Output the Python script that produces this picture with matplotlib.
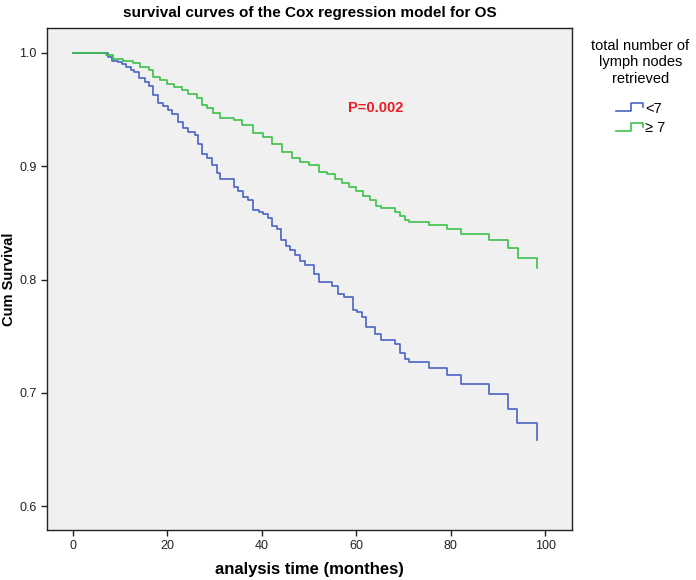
import matplotlib
matplotlib.use("Agg")
import matplotlib.pyplot as plt
from matplotlib.lines import Line2D
from matplotlib.legend_handler import HandlerBase

plt.rcParams['font.family'] = ['Liberation Sans', 'DejaVu Sans']

# event times (months) and survival after each drop
blue_t = [7.5, 8.3, 9.5, 10.4, 11.3, 12.3, 13.0, 14.0, 15.3, 16.2, 17.0, 18.0, 19.1,
          20.2, 20.9, 22.3, 23.4, 24.4, 25.8, 26.5, 27.3, 28.3, 29.4, 30.4, 31.1,
          34.0, 35.0, 36.1, 37.1, 38.1, 39.3, 40.3, 41.4, 42.1, 43.2, 44.0, 45.1,
          46.0, 47.0, 48.1, 49.2, 51.1, 52.2, 54.8, 56.2, 57.3, 59.2, 60.2, 61.2,
          62.1, 64.0, 65.2, 68.2, 69.3, 70.3, 71.2, 75.3, 79.2, 82.1, 88.2, 92.2,
          94.1, 98.2]
blue_s = [0.996, 0.993, 0.992, 0.990, 0.988, 0.985, 0.983, 0.978, 0.974, 0.971, 0.963,
          0.956, 0.953, 0.950, 0.946, 0.939, 0.934, 0.930, 0.928, 0.920, 0.911, 0.907,
          0.901, 0.894, 0.889, 0.882, 0.878, 0.873, 0.870, 0.861, 0.860, 0.858, 0.854,
          0.847, 0.845, 0.835, 0.830, 0.826, 0.822, 0.816, 0.813, 0.805, 0.798, 0.794,
          0.787, 0.785, 0.773, 0.771, 0.767, 0.758, 0.752, 0.747, 0.743, 0.735, 0.730,
          0.727, 0.722, 0.716, 0.708, 0.699, 0.686, 0.673, 0.658]

green_t = [7.1, 8.5, 10.5, 12.8, 14.2, 16.2, 17.0, 18.4, 19.9, 21.3, 23.0, 24.4, 26.2,
           27.3, 28.3, 29.7, 31.1, 34.0, 35.7, 38.2, 40.3, 42.1, 44.2, 46.3, 48.1,
           49.9, 52.0, 53.8, 55.5, 57.0, 58.5, 60.0, 61.5, 62.9, 64.2, 65.2, 68.2,
           69.3, 70.3, 71.2, 75.3, 79.3, 82.1, 88.2, 92.1, 94.2, 98.2]
green_s = [0.998, 0.995, 0.993, 0.991, 0.988, 0.985, 0.979, 0.976, 0.973, 0.970, 0.967,
           0.964, 0.960, 0.954, 0.951, 0.947, 0.943, 0.941, 0.936, 0.929, 0.926, 0.920,
           0.913, 0.907, 0.904, 0.901, 0.895, 0.893, 0.889, 0.885, 0.882, 0.878, 0.874,
           0.870, 0.865, 0.863, 0.860, 0.856, 0.853, 0.851, 0.848, 0.845, 0.840, 0.835,
           0.828, 0.819, 0.810]

labels = ['<7', '\u2265 7']
colors = ['#4a63c4', '#3cc24a']


class StepHandler(HandlerBase):
    def create_artists(self, legend, orig_handle, xd, yd, width, height, fontsize, trans):
        xs = [0, 0.55 * width, 0.55 * width, width, width]
        ys = [0.15 * height, 0.15 * height, 0.95 * height, 0.95 * height, 0.55 * height]
        ln = Line2D(xs, ys, color=orig_handle.get_color(), lw=1.2, transform=trans)
        return [ln]


fig = plt.figure(figsize=(6.96, 5.8), dpi=100)
ax = fig.add_axes([0.0675, 0.0862, 0.7545, 0.8655])
ax.set_facecolor('#f0f0f0')

handles = []
for t, s, c, lab in zip([blue_t, green_t], [blue_s, green_s], colors, labels):
    xs = [0] + t
    ys = [1.0] + s
    h, = ax.step(xs, ys, where='post', color=c, lw=1.2, label=lab)
    handles.append(h)

ax.set_xlim(-5.5, 105.7)
ax.set_ylim(0.579, 1.022)
ax.set_xticks([0, 20, 40, 60, 80, 100])
ax.set_yticks([0.6, 0.7, 0.8, 0.9, 1.0])
ax.set_yticklabels(['0.6', '0.7', '0.8', '0.9', '1.0'])
ax.tick_params(direction='out', length=4, width=1, labelsize=9, colors='#222222')
for sp in ax.spines.values():
    sp.set_color('#222222')
    sp.set_linewidth(1.0)

ax.set_xlabel('analysis time (monthes)', fontsize=12, fontweight='bold', labelpad=7)
ax.set_ylabel('Cum Survival', fontsize=10.5, fontweight='bold', labelpad=2)
ax.set_title('survival curves of the Cox regression model for OS',
             fontsize=11, fontweight='bold', pad=8)

ax.text(64.2, 0.951, 'P=0.002', color='#ee1c25', fontsize=10.5, fontweight='bold',
        ha='center', va='center')

leg = fig.legend(handles=handles, labels=labels, handler_map={Line2D: StepHandler()},
                 title='total number of\nlymph nodes\nretrieved', loc='upper center',
                 bbox_to_anchor=(0.92, 0.955), frameon=False, fontsize=10.5,
                 title_fontsize=10.5, handlelength=1.9, handletextpad=0.1,
                 labelspacing=0.4)
leg.get_title().set_multialignment('center')
leg._legend_box.sep = 11.5

fig.savefig('out.png', dpi=100)
